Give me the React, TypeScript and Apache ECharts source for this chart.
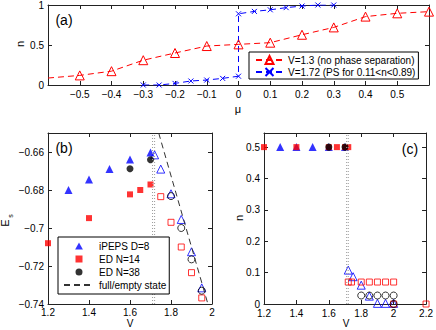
import React, { useEffect, useRef } from "react";
import * as echarts from "echarts";

// ---- Panel (a): n vs mu ----
const muV13 = [-0.6, -0.5, -0.4, -0.3, -0.2, -0.1, 0, 0.1, 0.2, 0.3, 0.4, 0.5, 0.6];
const nV13 = [0.087, 0.12, 0.173, 0.31, 0.4, 0.487, 0.508, 0.529, 0.628, 0.72, 0.855, 0.896, 0.917];
const muV172 = [-0.3, -0.25, -0.2, -0.15, -0.1, -0.05, 0, 0, 0.05, 0.1, 0.15, 0.2, 0.25, 0.3];
const nV172 = [0, 0, 0.02, 0.05, 0.062, 0.083, 0.11, 0.89, 0.92, 0.94, 0.967, 0.987, 1.0, 1.0];

// ---- Panel (b): E_s vs V ----
const vIpepsFilled = [1.3, 1.4, 1.5, 1.6, 1.7];
const eIpepsFilled = [-0.68, -0.6745, -0.669, -0.664, -0.6603];
const vIpepsOpen = [1.72, 1.75, 1.8, 1.85, 1.9, 1.95];
const eIpepsOpen = [-0.6615, -0.669, -0.682, -0.6955, -0.7125, -0.7315];
const vEd14Filled = [1.2, 1.4, 1.6, 1.65, 1.7];
const eEd14Filled = [-0.708, -0.6948, -0.6823, -0.68, -0.6771];
const vEd14Open = [1.75, 1.8, 1.85, 1.9, 1.95];
const eEd14Open = [-0.6835, -0.697, -0.71, -0.7235, -0.7368];
const vEd38Filled = [1.6, 1.7];
const eEd38Filled = [-0.6688, -0.6641];
const vEd38Open = [1.8, 1.85, 1.9, 1.95];
const eEd38Open = [-0.6832, -0.7, -0.7165, -0.733];
const vFullEmpty = [1.74, 1.98];
const eFullEmpty = [-0.65, -0.74];
const vCritical = [1.71, 1.72];

// ---- Panel (c): n vs V ----
const vcIpepsFilled = [1.3, 1.4, 1.5, 1.6, 1.7];
const ncIpepsFilled = [0.5, 0.5, 0.5, 0.5, 0.5];
const vcEd14Filled = [1.2, 1.4, 1.6, 1.65, 1.7, 1.72];
const ncEd14Filled = [0.5, 0.5, 0.5, 0.5, 0.5, 0.5];
const vcEd38Filled = [1.6, 1.7];
const ncEd38Filled = [0.5, 0.5];
const vcIpepsOpen = [1.72, 1.75, 1.8, 1.85, 1.9, 1.95, 2.0];
const ncIpepsOpen = [0.108, 0.087, 0.06, 0.025, 0.002, 0.002, 0.002];
const vcEd14Open = [1.72, 1.74, 1.8, 1.85, 1.9, 1.95, 2.0, 2.0, 2.2];
const ncEd14Open = [0.07, 0.07, 0.07, 0.07, 0.07, 0.07, 0.07, 0, 0];
const vcEd38Open = [1.8, 1.85, 1.9, 1.95, 2.0, 2.0];
const ncEd38Open = [0.027, 0.027, 0.027, 0.027, 0.027, 0];

const FONT = "Liberation Sans, Arial, Helvetica, sans-serif";
const AX = "#222";
const RED = "#ff0000";
const BLUE = "#0000ff";

const fmt = (v: number) => String(Math.round(v * 1000) / 1000).replace("-", "\u2212");
const zip = (xs: number[], ys: number[]) => xs.map((x, i) => [x, ys[i]]);

function xAxes(grid: number, min: number, max: number, interval: number, hideEnds: boolean, margin: number) {
  const common = {
    gridIndex: grid,
    type: "value",
    min,
    max,
    interval,
    splitLine: { show: false },
    axisLine: { show: true, onZero: false, lineStyle: { color: AX, width: 1 } },
    axisTick: { show: true, inside: true, length: 4, lineStyle: { color: AX } },
  };
  return [
    {
      ...common,
      position: "bottom",
      axisLabel: {
        margin,
        color: "#000",
        fontSize: 10,
        lineHeight: 9,
        fontFamily: FONT,
        formatter: fmt,
        showMinLabel: !hideEnds,
        showMaxLabel: !hideEnds,
      },
    },
    { ...common, position: "top", axisLabel: { show: false } },
  ];
}

function yAxes(grid: number, min: number, max: number, interval: number, hideMax: boolean) {
  const common = {
    gridIndex: grid,
    type: "value",
    min,
    max,
    interval,
    splitLine: { show: false },
    axisLine: { show: true, onZero: false, lineStyle: { color: AX, width: 1 } },
    axisTick: { show: true, inside: true, length: 4, lineStyle: { color: AX } },
  };
  return [
    {
      ...common,
      position: "left",
      axisLabel: {
        margin: 4,
        color: "#000",
        fontSize: 10,
        lineHeight: 9,
        fontFamily: FONT,
        formatter: fmt,
        showMaxLabel: !hideMax,
      },
    },
    { ...common, position: "right", axisLabel: { show: false } },
  ];
}

function scatter(name: string, grid: number, data: number[][], symbol: string, size: number, color: string, filled: boolean) {
  return {
    name,
    type: "scatter",
    xAxisIndex: grid * 2,
    yAxisIndex: grid * 2,
    data,
    symbol,
    symbolSize: size,
    clip: false,
    itemStyle: filled
      ? { color, borderWidth: 0 }
      : { color: "rgba(0,0,0,0)", borderColor: color, borderWidth: 1 },
    emphasis: { disabled: true },
  };
}

function vline(grid: number, x: number, y0: number, y1: number) {
  return {
    type: "line",
    xAxisIndex: grid * 2,
    yAxisIndex: grid * 2,
    data: [[x, y0], [x, y1]],
    symbol: "none",
    silent: true,
    lineStyle: { color: "#9a9a9a", width: 1, type: [1, 2] },
  };
}

export default function App() {
  const ref = useRef<HTMLDivElement>(null);
  useEffect(() => {
    document.body.style.margin = "0";
    const chart = echarts.init(ref.current!, undefined, { renderer: "svg" });
    const X_PATH = "path://M0,0L10,10M10,0L0,10";
    const TRI_ICON = "path://M5,0L10,9L0,9Z";
    const SQ_ICON = "path://M0,0L10,0L10,10L0,10Z";
    const CIR_ICON = "path://M0,5A5,5,0,1,1,10,5A5,5,0,1,1,0,5Z";
    const option = {
      animation: false,
      backgroundColor: "#fff",
      textStyle: { fontFamily: FONT },
      grid: [
        { left: 48, top: 4, width: 381, height: 81 },
        { left: 48, top: 133, width: 164, height: 171 },
        { left: 264, top: 133, width: 165, height: 171 },
      ],
      xAxis: [
        ...xAxes(0, -0.6, 0.6, 0.1, true, 5),
        ...xAxes(1, 1.2, 2, 0.2, false, 4),
        ...xAxes(2, 1.2, 2.2, 0.2, false, 5),
      ],
      yAxis: [
        ...yAxes(0, 0, 1, 0.5, false),
        ...yAxes(1, -0.74, -0.65, 0.02, true),
        ...yAxes(2, 0, 0.545, 0.1, true),
      ],
      legend: [
        {
          left: 249,
          top: 52,
          orient: "vertical",
          backgroundColor: "#fff",
          borderColor: "#000",
          borderWidth: 1,
          borderRadius: 0,
          padding: [3, 3, 2, 6],
          itemWidth: 27,
          itemHeight: 10,
          itemGap: 2,
          selectedMode: false,
          textStyle: { fontSize: 10, fontFamily: FONT, color: "#000" },
          data: ["V=1.3 (no phase separation)", "V=1.72 (PS for 0.11<n<0.89)"],
        },
        {
          left: 58,
          top: 237,
          orient: "vertical",
          backgroundColor: "#fff",
          borderColor: "#000",
          borderWidth: 1,
          borderRadius: 0,
          padding: [4, 3, 4, 5],
          itemWidth: 30,
          itemHeight: 7,
          itemGap: 3,
          symbolKeepAspect: true,
          selectedMode: false,
          textStyle: { fontSize: 10, fontFamily: FONT, color: "#000" },
          data: [
            { name: "iPEPS D=8", icon: TRI_ICON },
            { name: "ED N=14", icon: SQ_ICON },
            { name: "ED N=38", icon: CIR_ICON },
            "full/empty state",
          ],
        },
      ],
      series: [
        // panel (a)
        {
          name: "V=1.3 (no phase separation)",
          type: "line",
          xAxisIndex: 0,
          yAxisIndex: 0,
          data: zip(muV13, nV13).map((p, i) => (i === 0 ? { value: p, symbol: "none" } : p)),
          symbol: "triangle",
          symbolSize: 9,
          lineStyle: { color: RED, width: 1, type: [6, 4] },
          itemStyle: { color: "rgba(0,0,0,0)", borderColor: RED, borderWidth: 1 },
          emphasis: { disabled: true },
        },
        {
          name: "V=1.72 (PS for 0.11<n<0.89)",
          type: "line",
          xAxisIndex: 0,
          yAxisIndex: 0,
          data: zip(muV172, nV172),
          symbol: X_PATH,
          symbolSize: 5,
          lineStyle: { color: BLUE, width: 1, type: [6, 4] },
          itemStyle: { color: "rgba(0,0,0,0)", borderColor: BLUE, borderWidth: 1 },
          emphasis: { disabled: true },
        },
        // panel (b)
        vline(1, vCritical[0], -0.74, -0.65),
        vline(1, vCritical[1], -0.74, -0.65),
        {
          name: "full/empty state",
          type: "line",
          xAxisIndex: 2,
          yAxisIndex: 2,
          data: zip(vFullEmpty, eFullEmpty),
          symbol: "none",
          lineStyle: { color: "#333", width: 1, type: [6, 4] },
          itemStyle: { color: "rgba(0,0,0,0)", borderWidth: 0 },
          emphasis: { disabled: true },
        },
        scatter("iPEPS D=8", 1, zip(vIpepsFilled, eIpepsFilled), "triangle", 8, BLUE, true),
        scatter("iPEPS open b", 1, zip(vIpepsOpen, eIpepsOpen), "triangle", 8, BLUE, false),
        scatter("ED N=14", 1, zip(vEd14Filled, eEd14Filled), "rect", 6, RED, true),
        scatter("ED N=14 open b", 1, zip(vEd14Open, eEd14Open), "rect", 6, RED, false),
        scatter("ED N=38", 1, zip(vEd38Filled, eEd38Filled), "circle", 7, "#000", true),
        scatter("ED N=38 open b", 1, zip(vEd38Open, eEd38Open), "circle", 7, "#000", false),
        // panel (c)
        vline(2, vCritical[0], 0, 0.545),
        vline(2, vCritical[1], 0, 0.545),
        scatter("iPEPS filled c", 2, zip(vcIpepsFilled, ncIpepsFilled), "triangle", 8, BLUE, true),
        scatter("ED N=14 filled c", 2, zip(vcEd14Filled, ncEd14Filled), "rect", 6, RED, true),
        scatter("ED N=38 filled c", 2, zip(vcEd38Filled, ncEd38Filled), "circle", 7, "#000", true),
        scatter("iPEPS open c", 2, zip(vcIpepsOpen, ncIpepsOpen), "triangle", 8, BLUE, false),
        scatter("ED N=14 open c", 2, zip(vcEd14Open, ncEd14Open), "rect", 6, RED, false),
        scatter("ED N=38 open c", 2, zip(vcEd38Open, ncEd38Open), "circle", 7, "#000", false),
      ],
      graphic: [
        { type: "text", x: 64, y: 20, style: { text: "(a)", fontSize: 14, fontFamily: FONT, fill: "#000", align: "center", verticalAlign: "middle" } },
        { type: "text", x: 64, y: 148, style: { text: "(b)", fontSize: 14, fontFamily: FONT, fill: "#000", align: "center", verticalAlign: "middle" } },
        { type: "text", x: 410, y: 149, style: { text: "(c)", fontSize: 14, fontFamily: FONT, fill: "#000", align: "center", verticalAlign: "middle" } },
        { type: "text", x: 20, y: 44, rotation: Math.PI / 2, style: { text: "n", fontSize: 11, fontFamily: FONT, fill: "#000", align: "center", verticalAlign: "middle" } },
        { type: "text", x: 238, y: 109, style: { text: "μ", fontSize: 11, fontFamily: FONT, fill: "#000", align: "center", verticalAlign: "middle" } },
        { type: "text", x: 130, y: 323, style: { text: "V", fontSize: 10, fontFamily: FONT, fill: "#000", align: "center", verticalAlign: "middle" } },
        { type: "text", x: 346, y: 323, style: { text: "V", fontSize: 10, fontFamily: FONT, fill: "#000", align: "center", verticalAlign: "middle" } },
        { type: "text", x: 239, y: 218, rotation: Math.PI / 2, style: { text: "n", fontSize: 11, fontFamily: FONT, fill: "#000", align: "center", verticalAlign: "middle" } },
        { type: "text", x: 5, y: 223, rotation: Math.PI / 2, style: { text: "E", fontSize: 11, fontFamily: FONT, fill: "#000", align: "center", verticalAlign: "middle" } },
        { type: "text", x: 10, y: 216, rotation: Math.PI / 2, style: { text: "s", fontSize: 7, fontFamily: FONT, fill: "#000", align: "center", verticalAlign: "middle" } },
      ],
    };
    chart.setOption(option as any);
    return () => chart.dispose();
  }, []);
  return <div ref={ref} style={{ width: 436, height: 330 }} />;
}
